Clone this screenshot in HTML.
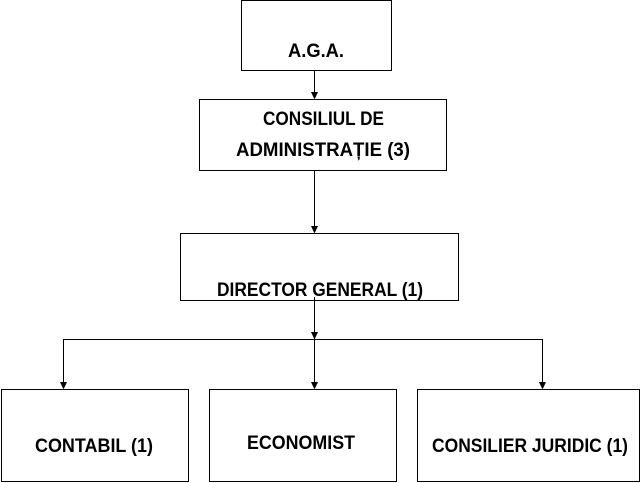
<!DOCTYPE html>
<html><head><meta charset="utf-8"><style>html,body{margin:0;padding:0;background:#fff}svg{display:block}</style></head>
<body>
<svg width="643" height="483" viewBox="0 0 643 483" xmlns="http://www.w3.org/2000/svg">
<g fill="#fff" stroke="#000" stroke-width="1">
<rect x="241.5" y="0.5" width="150" height="70"/>
<rect x="199.5" y="99.5" width="247" height="71"/>
<rect x="180.5" y="233.5" width="278" height="67"/>
<rect x="1.5" y="389.5" width="187" height="92"/>
<rect x="209.5" y="389.5" width="187" height="92"/>
<rect x="417.5" y="389.5" width="222" height="92"/>
</g>
<g stroke="#000" stroke-width="1" fill="none">
<line x1="314.5" y1="71" x2="314.5" y2="93"/>
<line x1="314.5" y1="171" x2="314.5" y2="227"/>
<line x1="314.5" y1="297" x2="314.5" y2="383"/>
<polyline points="63.5,383 63.5,339.5 542.5,339.5 542.5,383"/>
</g>
<g fill="#000">
<polygon points="311,92 318,92 314.5,99.5"/>
<polygon points="311,226 318,226 314.5,233.5"/>
<polygon points="311,332 318,332 314.5,339.5"/>
<polygon points="311,382 318,382 314.5,389.5"/>
<polygon points="60,382 67,382 63.5,389.5"/>
<polygon points="539,382 546,382 542.5,389.5"/>
</g>
<g font-family="'Liberation Sans',sans-serif" font-weight="bold" font-size="19" fill="#000">
<text x="288" y="57" textLength="56" lengthAdjust="spacingAndGlyphs">A.G.A.</text>
<text x="263" y="125" textLength="121" lengthAdjust="spacingAndGlyphs">CONSILIUL DE</text>
<text x="236" y="156" textLength="174" lengthAdjust="spacingAndGlyphs">ADMINISTRAȚIE (3)</text>
<text x="217" y="296" textLength="206" lengthAdjust="spacingAndGlyphs">DIRECTOR GENERAL (1)</text>
<text x="35" y="452" textLength="118" lengthAdjust="spacingAndGlyphs">CONTABIL (1)</text>
<text x="247" y="449" textLength="108" lengthAdjust="spacingAndGlyphs">ECONOMIST</text>
<text x="432" y="452" textLength="196" lengthAdjust="spacingAndGlyphs">CONSILIER JURIDIC (1)</text>
</g>
</svg>
</body></html>
